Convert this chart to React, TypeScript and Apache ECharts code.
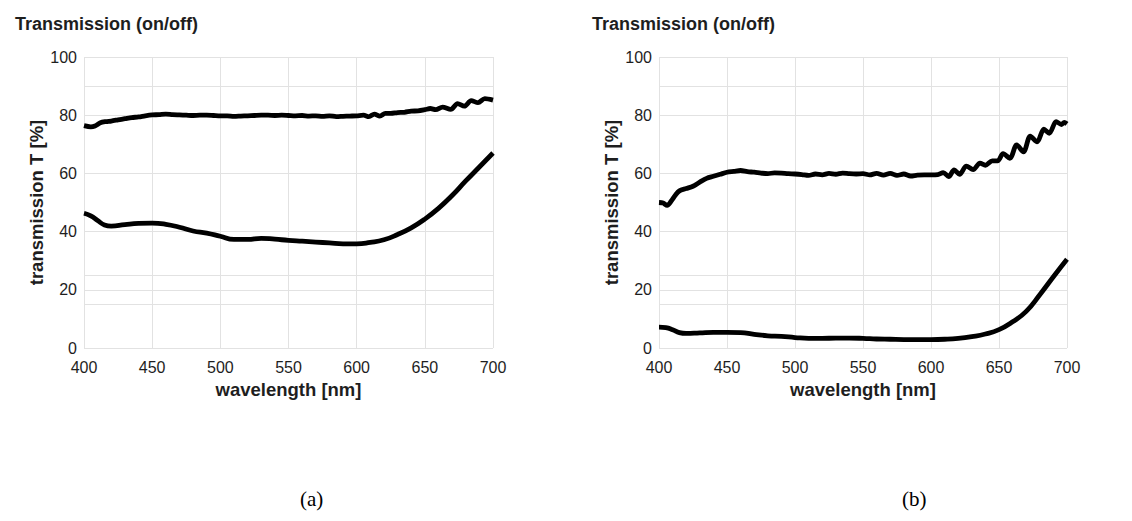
import React, { useEffect, useRef } from "react";
import * as echarts from "echarts";

// ---- Data ----
const xTicks = [400, 450, 500, 550, 600, 650, 700];
const yTicks = [0, 20, 40, 60, 80, 100];
const extraGridValues = [15, 25, 90];

// (a) upper curve (on)
const waveAUp = [400, 405, 408, 412, 416, 420, 425, 430, 435, 440, 445, 450, 455, 460, 465, 470, 475, 480, 485, 490, 495, 500, 505, 510, 515, 520, 525, 530, 535, 540, 545, 550, 555, 560, 565, 570, 575, 580, 585, 590, 595, 600, 605, 609, 613, 617, 621, 625, 630, 635, 640, 645, 650, 654, 658, 663, 669, 674, 679, 684, 689, 694, 700];
const transAUp = [76.4, 76.0, 76.3, 77.4, 77.8, 78.0, 78.4, 78.8, 79.2, 79.4, 79.8, 80.1, 80.2, 80.4, 80.2, 80.1, 80.0, 79.9, 80.0, 80.0, 79.9, 79.8, 79.8, 79.6, 79.7, 79.8, 79.9, 80.0, 80.0, 79.9, 80.0, 79.9, 79.8, 79.9, 79.7, 79.8, 79.6, 79.8, 79.5, 79.6, 79.7, 79.8, 80.0, 79.5, 80.4, 79.7, 80.6, 80.6, 80.9, 81.0, 81.4, 81.5, 81.9, 82.3, 81.9, 82.8, 82.0, 84.0, 83.1, 85.0, 84.3, 85.7, 85.2];

// (a) lower curve (off)
const waveALow = [400, 405, 410, 415, 420, 430, 440, 450, 460, 470, 480, 490, 500, 510, 520, 530, 540, 550, 560, 570, 580, 590, 600, 610, 620, 630, 640, 650, 660, 670, 680, 690, 700];
const transALow = [46.3, 45.4, 43.8, 42.3, 41.9, 42.4, 42.8, 42.9, 42.5, 41.5, 40.2, 39.5, 38.4, 37.3, 37.3, 37.7, 37.4, 37.0, 36.7, 36.4, 36.1, 35.8, 35.8, 36.3, 37.2, 39.0, 41.3, 44.3, 48.0, 52.4, 57.4, 62.2, 67.0];

// (b) upper curve (on)
const waveBUp = [400, 403, 406, 409, 412, 415, 420, 425, 430, 435, 440, 445, 450, 455, 460, 465, 470, 475, 480, 485, 490, 495, 500, 505, 510, 515, 520, 525, 530, 535, 540, 545, 550, 555, 560, 565, 570, 575, 580, 585, 590, 595, 600, 605, 609, 613, 617, 621, 626, 631, 636, 640, 645, 649, 653, 658, 663, 668, 673, 678, 683, 687, 692, 696, 698, 700];
const transBUp = [50.0, 49.8, 49.0, 50.5, 52.5, 54.0, 54.8, 55.6, 57.0, 58.3, 59.0, 59.7, 60.4, 60.7, 61.0, 60.6, 60.4, 60.1, 59.9, 60.2, 60.1, 59.9, 59.8, 59.6, 59.3, 59.8, 59.5, 60.0, 59.7, 60.1, 59.9, 59.8, 59.9, 59.5, 60.0, 59.4, 60.0, 59.3, 59.8, 59.1, 59.4, 59.5, 59.5, 59.6, 60.3, 58.9, 61.2, 59.7, 62.5, 61.3, 63.5, 62.8, 64.3, 64.3, 66.8, 65.2, 69.8, 67.4, 72.8, 70.8, 75.2, 73.8, 77.8, 76.8, 77.5, 77.0];

// (b) lower curve (off)
const waveBLow = [400, 405, 410, 415, 420, 430, 440, 450, 460, 470, 480, 490, 500, 510, 520, 530, 540, 550, 560, 570, 580, 590, 600, 610, 620, 630, 640, 650, 660, 670, 680, 690, 700];
const transBLow = [7.2, 7.0, 6.3, 5.3, 5.0, 5.2, 5.4, 5.4, 5.3, 4.7, 4.2, 4.0, 3.6, 3.3, 3.3, 3.4, 3.4, 3.3, 3.1, 3.0, 2.9, 2.9, 2.9, 3.0, 3.3, 3.9, 4.8, 6.3, 9.0, 12.6, 18.3, 24.5, 30.5];

const panelTitle = "Transmission (on/off)";
const xName = "wavelength [nm]";
const yName = "transmission T [%]";
const captions = ["(a)", "(b)"];

const zip = (xs: number[], ys: number[]) => xs.map((x, i) => [x, ys[i]]);

const SANS = "'Liberation Sans', Arial, sans-serif";
const TEXT = "#1e1e1e";
const GRID = "#e2e2e2";

export default function App() {
  const ref = useRef<HTMLDivElement>(null);

  useEffect(() => {
    document.body.style.margin = "0";
    if (!ref.current) return;
    const chart = echarts.init(ref.current, undefined, { renderer: "svg" });

    const grids = [
      { left: 84, top: 57, width: 409, height: 291 },
      { left: 659, top: 57, width: 408, height: 291 },
    ];

    const xAxes = grids.map((_, i) => ({
      type: "value",
      gridIndex: i,
      min: xTicks[0],
      max: xTicks[xTicks.length - 1],
      interval: xTicks[1] - xTicks[0],
      name: xName,
      nameLocation: "middle",
      nameGap: 31,
      nameTextStyle: { fontFamily: SANS, fontWeight: "bold", fontSize: 18.5, color: TEXT },
      axisLabel: { fontFamily: SANS, fontSize: 16, color: TEXT, margin: 11 },
      axisLine: { show: false },
      axisTick: { show: false },
      splitLine: { show: true, lineStyle: { color: GRID, width: 1 } },
    }));

    const yAxes = grids.map((_, i) => ({
      type: "value",
      gridIndex: i,
      min: yTicks[0],
      max: yTicks[yTicks.length - 1],
      interval: yTicks[1] - yTicks[0],
      name: yName,
      nameLocation: "middle",
      nameGap: 33,
      nameTextStyle: { fontFamily: SANS, fontWeight: "bold", fontSize: 18.5, color: TEXT },
      axisLabel: { fontFamily: SANS, fontSize: 16, color: TEXT, margin: 7 },
      axisLine: { show: false },
      axisTick: { show: false },
      splitLine: { show: true, lineStyle: { color: GRID, width: 1 } },
    }));

    const lineSeries = (data: number[][], idx: number, smooth: number, withGrid: boolean) => ({
      type: "line",
      xAxisIndex: idx,
      yAxisIndex: idx,
      data,
      smooth,
      showSymbol: false,
      symbol: "none",
      lineStyle: { color: "#000", width: 4.8 },
      z: 3,
      silent: true,
      ...(withGrid
        ? {
            markLine: {
              silent: true,
              symbol: "none",
              label: { show: false },
              lineStyle: { color: GRID, width: 1, type: "solid" },
              z: 1,
              data: extraGridValues.map((v) => ({ yAxis: v })),
            },
          }
        : {}),
    });

    const titleStyle = { fontFamily: SANS, fontSize: 18, fontWeight: "bold", color: TEXT };

    chart.setOption({
      animation: false,
      backgroundColor: "#fff",
      title: [
        { text: panelTitle, left: 10, top: 10, textStyle: titleStyle },
        { text: panelTitle, left: 587, top: 10, textStyle: titleStyle },
      ],
      grid: grids,
      xAxis: xAxes,
      yAxis: yAxes,
      series: [
        lineSeries(zip(waveAUp, transAUp), 0, 0.3, true),
        lineSeries(zip(waveALow, transALow), 0, 0.5, false),
        lineSeries(zip(waveBUp, transBUp), 1, 0.3, true),
        lineSeries(zip(waveBLow, transBLow), 1, 0.5, false),
      ],
      graphic: [
        { type: "text", left: 300, top: 488, style: { text: captions[0], font: "21px 'Liberation Serif', 'Times New Roman', serif", fill: "#000" } },
        { type: "text", left: 902, top: 488, style: { text: captions[1], font: "21px 'Liberation Serif', 'Times New Roman', serif", fill: "#000" } },
      ],
    });

    return () => chart.dispose();
  }, []);

  return <div ref={ref} style={{ width: 1132, height: 521 }} />;
}
